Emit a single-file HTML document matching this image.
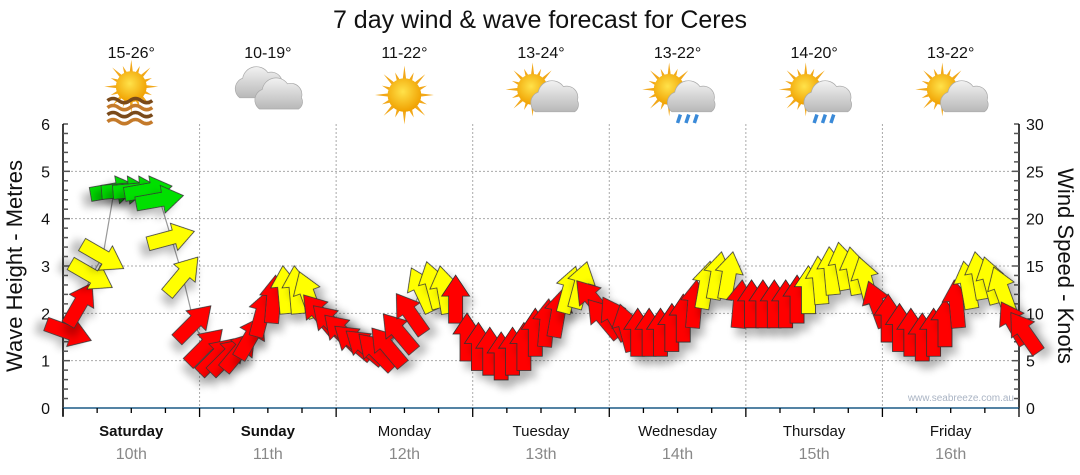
<!DOCTYPE html>
<html><head><meta charset="utf-8">
<style>
body{margin:0;background:#fff;width:1080px;height:475px;overflow:hidden;font-family:"Liberation Sans","DejaVu Sans",sans-serif;}
svg{display:block}
</style></head>
<body>
<svg id="chart" width="1080" height="475" viewBox="0 0 1080 475" xmlns="http://www.w3.org/2000/svg">
<defs>
<filter id="shadow" x="-50%" y="-50%" width="200%" height="200%">
<feGaussianBlur in="SourceAlpha" stdDeviation="4"/>
<feOffset dx="5" dy="8" result="b"/>
<feComponentTransfer><feFuncA type="linear" slope="0.25"/></feComponentTransfer>
<feMerge><feMergeNode/><feMergeNode in="SourceGraphic"/></feMerge>
</filter>
<radialGradient id="sunG" cx="0.45" cy="0.4" r="0.6"><stop offset="0" stop-color="#ffe24a"/><stop offset="1" stop-color="#f0a000"/></radialGradient>
<linearGradient id="cloudG" x1="0" y1="0" x2="0" y2="1"><stop offset="0" stop-color="#f2f2f2"/><stop offset="1" stop-color="#b8b8b8"/></linearGradient>
</defs>
<text x="540" y="28" font-size="25" text-anchor="middle" fill="#111">7 day wind &amp; wave forecast for Ceres</text>
<g id="grid"></g>
<g id="axes"></g>
<g id="icons"></g>
<g id="marks"></g>
<text transform="translate(22,266) rotate(-90)" font-size="22" text-anchor="middle" fill="#111">Wave Height - Metres</text>
<text transform="translate(1058,266) rotate(90)" font-size="22" text-anchor="middle" fill="#111">Wind Speed - Knots</text>
<text x="1014" y="401" font-size="10" text-anchor="end" fill="#aab4c4">www.seabreeze.com.au</text>
</svg>
<script>
const days = ["Saturday","Sunday","Monday","Tuesday","Wednesday","Thursday","Friday"];
const dates = ["10th","11th","12th","13th","14th","15th","16th"];
const temps = ["15-26°","10-19°","11-22°","13-24°","13-22°","14-20°","13-22°"];
const iconTypes = ["sunhaze","cloud","sun","suncloud","sunrain","sunrain","suncloud"];
const leftTicks = [0,1,2,3,4,5,6];
const rightTicks = [0,5,10,15,20,25,30];
// wind speed (knots), 2-hourly starting 01:00 Saturday
const windSpeed = [
 8,11,14,16,23,23,23,23,22,18,14,9,
 6.5,5.5,5.5,6,7.5,10,11.5,12.5,12.5,12,10,9,
 8,7,6.5,6,6.5,8,10,12.5,13,12.5,11.5,7.5,
 6.5,6,5.5,6,6.5,8,9,10,12.5,13,11.5,9.5,
 9.5,8.5,8,8,8,8.5,9.5,11,13,14,14,11,
 11,11,11,11,11.5,12.5,13.5,14.5,15,14.5,13.5,11,
 9.5,8.5,8,7.5,8,9,11,13,14,13.5,12.5,9,8];
// direction the arrow points (degrees, 0 = up)
const windDir = [
 110,30,120,120,80,85,85,80,80,75,40,45,
 45,45,45,40,30,15,5,355,355,340,320,315,
 315,310,310,315,320,320,325,335,345,350,0,0,
 0,0,0,0,0,0,5,10,15,15,320,320,
 330,345,0,0,0,0,0,5,10,10,10,5,
 0,0,0,0,0,0,355,355,350,350,345,340,
 0,0,0,0,0,0,355,350,350,345,340,330,325];

const NS="http://www.w3.org/2000/svg";
const X0=63, DAYW=136.57, X1=1019, YTOP=124, YBOT=408;
function xHour(h){return X0+h*DAYW/24;}
function yM(m){return YBOT-(m/6)*(YBOT-YTOP);}
function yK(k){return YBOT-(k/30)*(YBOT-YTOP);}
function mk(tag,attrs,parent){const e=document.createElementNS(NS,tag);for(const k in attrs)e.setAttribute(k,attrs[k]);parent.appendChild(e);return e;}
const grid=document.getElementById('grid'),axes=document.getElementById('axes'),marks=document.getElementById('marks'),icons=document.getElementById('icons');

leftTicks.slice(1,6).forEach(m=>{
 const l=mk('line',{x1:X0,x2:X1,y1:yM(m),y2:yM(m),stroke:'#aaa','stroke-dasharray':'2,2'},grid);
 
 
});
for(let d=1;d<7;d++){
 const l=mk('line',{x1:X0+d*DAYW,x2:X0+d*DAYW,y1:YTOP,y2:YBOT,stroke:'#aaa','stroke-dasharray':'2,2'},grid);
 
 
}
mk('line',{x1:X0,x2:X0,y1:YTOP,y2:YBOT+8,stroke:'#000','stroke-width':1.5},axes);
mk('line',{x1:X1,x2:X1,y1:YTOP,y2:YBOT,stroke:'#000','stroke-width':1.5},axes);
mk('line',{x1:X0,x2:X1,y1:YBOT,y2:YBOT,stroke:'#1b5a85','stroke-width':1.5},axes);
mk('line',{x1:X0,x2:X0+5,y1:YTOP,y2:YTOP,stroke:'#000'},axes);
mk('line',{x1:X1,x2:X1-5,y1:YTOP,y2:YTOP,stroke:'#000'},axes);
for(let i=1;i<30;i++){mk('line',{x1:X0,x2:X0+(i%5==0?7:5),y1:yM(i/5),y2:yM(i/5),stroke:'#555','stroke-width':1.5},axes);}
for(let i=1;i<30;i++){mk('line',{x1:X1,x2:X1-(i%5==0?7:5),y1:yK(i),y2:yK(i),stroke:'#555','stroke-width':1.5},axes);}
leftTicks.forEach(m=>{
 const t=mk('text',{x:50,y:yM(m)+6,'font-size':16,'text-anchor':'end',fill:'#111'},axes);t.textContent=m;
 
 
});
rightTicks.forEach(k=>{
 const t=mk('text',{x:1026,y:yK(k)+6,'font-size':16,'text-anchor':'start',fill:'#111'},axes);t.textContent=k;
 
 
});
for(let i=0;i<=28;i++){
 const x=X0+i*DAYW/4;
 mk('line',{x1:x,x2:x,y1:YBOT,y2:YBOT+(i%4==0?9:5),stroke:'#000','stroke-width':1.3},axes);
}
days.forEach((d,i)=>{
 const cx=X0+(i+0.5)*DAYW;
 const t=mk('text',{x:cx,y:436,'font-size':15,'text-anchor':'middle',fill:'#111','font-weight':i<2?'bold':'normal'},axes);t.textContent=d;
 
 
 const t2=mk('text',{x:cx,y:459,'font-size':16,'text-anchor':'middle',fill:'#888'},axes);t2.textContent=dates[i];
 
 
 const t3=mk('text',{x:cx,y:58,'font-size':16,'text-anchor':'middle',fill:'#111'},icons);t3.textContent=temps[i];
 
 
 const g=mk('g',{transform:`translate(${cx},95) scale(1.4)`},icons);
 
 
 drawIcon(g,iconTypes[i]);
});
function sun(g,dx,dy,r){
 for(let a=0;a<360;a+=22.5){
  const rad=a*Math.PI/180,L=(a/22.5)%2?r*1.45:r*1.75;
  mk('polygon',{points:`${dx+Math.cos(rad-0.12)*r*0.9},${dy+Math.sin(rad-0.12)*r*0.9} ${dx+Math.cos(rad)*L},${dy+Math.sin(rad)*L} ${dx+Math.cos(rad+0.12)*r*0.9},${dy+Math.sin(rad+0.12)*r*0.9}`,fill:'#f2a81a'},g);
 }
 mk('circle',{cx:dx,cy:dy,r:r,fill:'url(#sunG)'},g);
}
function cloud(g,dx,dy,s){
 mk('path',{d:`M${dx-14*s},${dy+8*s} a8 8 0 0 1 2,-14 a10 10 0 0 1 18,-4 a8 8 0 0 1 10,10 a6 6 0 0 1 -2,8 z`,fill:'url(#cloudG)',stroke:'#aaa','stroke-width':0.5},g);
}
function drawIcon(g,type){
 if(type=='sunhaze'){sun(g,0,-6,11);for(let i=0;i<4;i++)mk('path',{d:`M-17,${4+i*5} q4,-3 8,0 t8,0 t8,0 t8,0`,stroke:i%2?'#c47a2a':'#7a4a1a','stroke-width':2.5,fill:'none'},g);}
 else if(type=='cloud'){cloud(g,-6,-6,1);cloud(g,8,2,1);}
 else if(type=='sun'){sun(g,0,0,12);}
 else {sun(g,-6,-4,11);cloud(g,10,4,1);
  if(type=='sunrain'){for(let i=0;i<3;i++)mk('path',{d:`M${2+i*6},${14} l-2,6`,stroke:'#3a8ad8','stroke-width':2.5},g);}}
}
let pts=windSpeed.map((k,i)=>`${xHour(1+2*i)},${yK(k)}`).join(' ');
const pl=mk('polyline',{points:pts,fill:'none',stroke:'#999','stroke-width':1.2},marks);


windSpeed.forEach((k,i)=>{
 const x=xHour(1+2*i),y=yK(k);
 const col=k<12?'#ff0000':(k<20?'#ffff00':'#00e000');
 const a=mk('polygon',{points:'0,-24 14,-3 7,-3 7,24 -7,24 -7,-3 -14,-3',fill:col,stroke:'#333','stroke-width':0.8,'stroke-linejoin':'miter',transform:`translate(${x},${y}) rotate(${windDir[i]})`,filter:'url(#shadow)'},marks);
 
 
});
</script>
</body></html>
